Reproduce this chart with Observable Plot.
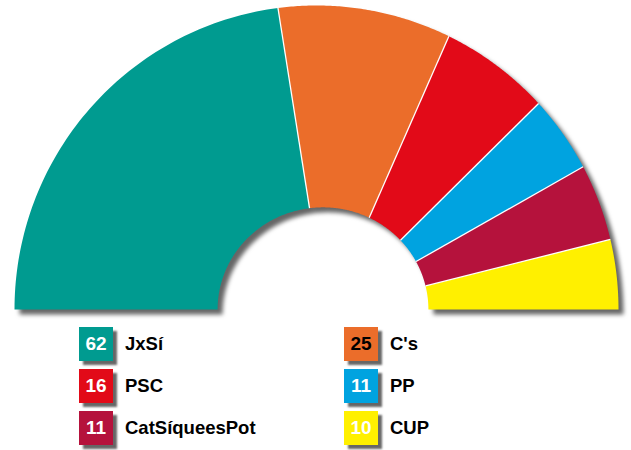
<!DOCTYPE html>
<html>
<head>
<meta charset="utf-8">
<script src="https://cdn.jsdelivr.net/npm/d3@7"></script>
<script src="https://cdn.jsdelivr.net/npm/@observablehq/plot@0.6"></script>
<style>
  html, body { margin: 0; padding: 0; background: #fff; }
  body { width: 631px; height: 450px; overflow: hidden; font-family: "Liberation Sans", Arial, sans-serif; }
  #chart svg { display: block; }
  #legend { display: grid; grid-template-columns: 265px 200px; grid-auto-rows: 42px; padding-left: 79px; margin-top: 5px; }
  .item { display: flex; align-items: flex-start; }
  .box { width: 34px; height: 34px; line-height: 34px; text-align: center; font-weight: bold; font-size: 19px;
         box-shadow: 4px 4px 2px rgba(0,0,0,0.6); }
  .lab { margin-left: 12px; line-height: 34px; font-weight: bold; font-size: 18.5px; color: #000; }
</style>
</head>
<body>
<div id="chart"></div>
<div id="legend"></div>
<script>
const parties = ["JxSí", "C's", "PSC", "PP", "CatSíqueesPot", "CUP"];
const seats = [62, 25, 16, 11, 11, 10];
const colors = ["#009b90", "#eb6d2a", "#e20a18", "#00a3e0", "#b5123c", "#fff000"];
const numberColors = ["#ffffff", "#000000", "#ffffff", "#ffffff", "#ffffff", "#ffffff"];

const total = d3.sum(seats);
const cum = Array.from(d3.cumsum(seats));
const ang = c => Math.PI * (1 - c / total);
// ring geometry (in outer-radius units)
const icx = 0.0215, irx = 0.349, iry = 0.336;
const outer = t => [Math.cos(t), Math.sin(t)];
const inner = t => [icx + irx * Math.cos(t), iry * Math.sin(t)];

const pts = [];
parties.forEach((p, i) => {
  const c0 = i === 0 ? 0 : cum[i - 1], c1 = cum[i];
  const a0 = ang(c0), a1 = ang(c1);
  const n = 80;
  for (let k = 0; k <= n; k++) {
    const t = a0 + (a1 - a0) * k / n;
    const [x, y] = outer(t);
    pts.push({party: p, x, y, color: colors[i]});
  }
  for (let k = n; k >= 0; k--) {
    const t = a0 + (a1 - a0) * k / n;
    const [x, y] = inner(t);
    pts.push({party: p, x, y, color: colors[i]});
  }
});

const seps = cum.slice(0, -1).map(c => {
  const t = ang(c);
  const [x1, y1] = inner(t);
  const [x2, y2] = outer(t);
  return {x1, y1, x2, y2};
});

const plot = Plot.plot({
  width: 631,
  height: 322,
  marginLeft: 14,
  marginRight: 13,
  marginTop: 5,
  marginBottom: 13,
  x: {domain: [-1, 1], axis: null},
  y: {domain: [0, 1], axis: null},
  color: {type: "identity"},
  style: {background: "#fff", overflow: "visible"},
  marks: [
    Plot.line(pts, {x: "x", y: "y", z: "party", fill: "color", stroke: null,
      imageFilter: "drop-shadow(5px 5px 2px rgba(0,0,0,0.6))"}),
    Plot.link(seps, {x1: "x1", y1: "y1", x2: "x2", y2: "y2", stroke: "white", strokeWidth: 1.3})
  ]
});
document.getElementById("chart").append(plot);

const legend = document.getElementById("legend");
parties.forEach((p, i) => {
  const item = document.createElement("div");
  item.className = "item";
  const box = document.createElement("div");
  box.className = "box";
  box.style.background = colors[i];
  box.style.color = numberColors[i];
  box.textContent = seats[i];
  const lab = document.createElement("div");
  lab.className = "lab";
  lab.textContent = p;
  item.append(box, lab);
  legend.append(item);
});
</script>
</body>
</html>
